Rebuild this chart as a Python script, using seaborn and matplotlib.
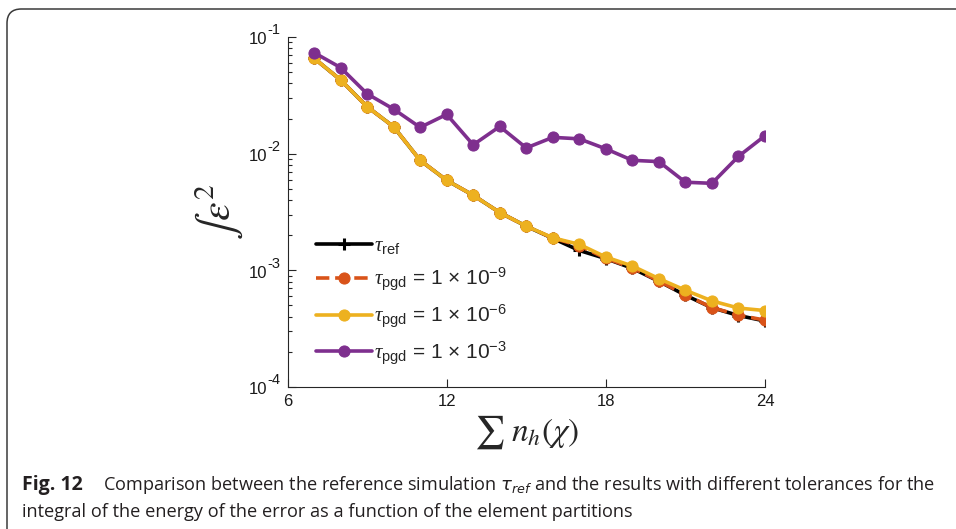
import numpy as np
import pandas as pd
import matplotlib.pyplot as plt
import seaborn as sns
from matplotlib.patches import FancyBboxPatch
from matplotlib.ticker import FixedLocator, LogLocator, NullFormatter

# datos
n_part = [7, 8, 9, 10, 11, 12, 13, 14, 15, 16, 17, 18, 19, 20, 21, 22, 23, 24]
err_ref = [0.0658, 0.0429, 0.0253, 0.0170, 0.00877, 0.00591, 0.00440, 0.00313, 0.00239,
           0.00188, 0.00148, 0.00126, 0.00104, 0.000805, 0.000612, 0.000478, 0.000410, 0.000368]
err_tol9 = [0.0658, 0.0429, 0.0253, 0.0170, 0.00877, 0.00591, 0.00440, 0.00313, 0.00239,
            0.00189, 0.00163, 0.00127, 0.00105, 0.000811, 0.000615, 0.000480, 0.000413, 0.000374]
err_tol6 = [0.0658, 0.0429, 0.0253, 0.0170, 0.00877, 0.00591, 0.00440, 0.00313, 0.00239,
            0.00190, 0.00167, 0.00130, 0.00109, 0.000849, 0.000675, 0.000547, 0.000475, 0.000452]
err_tol3 = [0.0735, 0.0547, 0.0326, 0.0241, 0.0168, 0.0217, 0.0119, 0.0171, 0.0112,
            0.0138, 0.0134, 0.0110, 0.00877, 0.00855, 0.00569, 0.00557, 0.00948, 0.01425]

labels = [r'$\tau_{\mathrm{ref}}$',
          r'$\tau_{\mathrm{pgd}}$ = 1 $\times$ 10$^{-9}$',
          r'$\tau_{\mathrm{pgd}}$ = 1 $\times$ 10$^{-6}$',
          r'$\tau_{\mathrm{pgd}}$ = 1 $\times$ 10$^{-3}$']
colores = ['#000000', '#D95319', '#EDB120', '#7E2F8E']
x_ticks = [6, 12, 18, 24]
y_ticks = [1e-4, 1e-3, 1e-2, 1e-1]

sns.set_style('white')
plt.rcParams['font.family'] = ['Liberation Sans', 'DejaVu Sans']
plt.rcParams['mathtext.fontset'] = 'custom'
plt.rcParams['mathtext.rm'] = 'Liberation Sans'
plt.rcParams['mathtext.it'] = 'Liberation Serif:italic'
plt.rcParams['mathtext.bf'] = 'Liberation Sans:bold'

fig = plt.figure(figsize=(9.56, 5.29), dpi=100)

# marco redondeado de la figura
marco = FancyBboxPatch((7 / 956, -0.2), 1.2, 1.2 - 9 / 529,
                       boxstyle='round,pad=0,rounding_size=0.015',
                       transform=fig.transFigure, facecolor='none',
                       edgecolor='#3a3a3a', linewidth=1.1, mutation_aspect=956 / 529)
fig.patches.append(marco)

ax = fig.add_axes([287.5 / 956, 1 - 387 / 529, 477.5 / 956, 350 / 529])

series = [err_ref, err_tol9, err_tol6, err_tol3]
estilos = [dict(marker='+', markersize=9, mew=2.2, linestyle='-'),
           dict(marker='o', markersize=8, linestyle='--'),
           dict(marker='o', markersize=8, linestyle='-'),
           dict(marker='o', markersize=8, linestyle='-')]
for vals, lab, col, est in zip(series, labels, colores, estilos):
    df = pd.DataFrame({'n': n_part, 'e': vals})
    sns.lineplot(data=df, x='n', y='e', ax=ax, color=col, label=lab, linewidth=2.6,
                 markeredgecolor=col, **est)

ax.set_yscale('log')
ax.set_ylim(1e-4, 1e-1)
ax.set_xlim(6, 24)
ax.xaxis.set_major_locator(FixedLocator(x_ticks))
ax.yaxis.set_major_locator(FixedLocator(y_ticks))
ax.yaxis.set_major_formatter(NullFormatter())
ax.yaxis.set_minor_locator(LogLocator(base=10, subs=np.arange(2, 10)))
ax.yaxis.set_minor_formatter(NullFormatter())
ax.tick_params(which='both', direction='in', left=True, bottom=True, colors='#262626',
               labelcolor='#1a1a1a', labelsize=12, width=0.8)
ax.tick_params(which='major', length=6)
ax.tick_params(which='minor', length=3)
ax.tick_params(axis='x', pad=5)
for s in ['top', 'right']:
    ax.spines[s].set_visible(False)
for s in ['left', 'bottom']:
    ax.spines[s].set_color('#262626')
    ax.spines[s].set_linewidth(0.8)

# etiquetas del eje y estilo MATLAB (10 con exponente grande)
for v in y_ticks:
    sup = ax.annotate('%d' % round(np.log10(v)), xy=(0, v), xycoords=('axes fraction', 'data'),
                      xytext=(-5, 2), textcoords='offset points', ha='right', va='baseline',
                      fontsize=10.5, color='#1a1a1a', annotation_clip=False)
    ax.annotate('10', xy=(0, v), xycoords=(sup, 'data'), xytext=(0, -1), textcoords='offset points',
                ha='right', va='center_baseline', fontsize=12, color='#1a1a1a', annotation_clip=False)

ax.set_xlabel(r'$\sum\;n_h(\chi)$', fontsize=24, math_fontfamily='stix')
ax.xaxis.set_label_coords(0.5, -0.075)
ax.set_ylabel(r'$\int\epsilon^2$', fontsize=30, math_fontfamily='stix')
ax.yaxis.set_label_coords(-0.09, 0.5)

leg = ax.legend(loc='upper left', bbox_to_anchor=(0.06, 0.43), frameon=False,
                fontsize=15, handlelength=2.7, handletextpad=0.1, labelspacing=0.45,
                borderpad=0, borderaxespad=0)

# pie de figura
fig.text(22 / 956, 1 - 490 / 529, 'Fig. 12', fontsize=14, fontweight='bold',
         family='Open Sans', color='#231f20')
fig.text(103 / 956, 1 - 490 / 529,
         r'Comparison between the reference simulation $\tau_{ref}$ and the results with different tolerances for the',
         fontsize=13.1, family='Open Sans', color='#231f20', math_fontfamily='dejavusans')
fig.text(22 / 956, 1 - 517 / 529,
         'integral of the energy of the error as a function of the element partitions',
         fontsize=13.1, family='Open Sans', color='#231f20')

fig.savefig('out.png', dpi=100)
